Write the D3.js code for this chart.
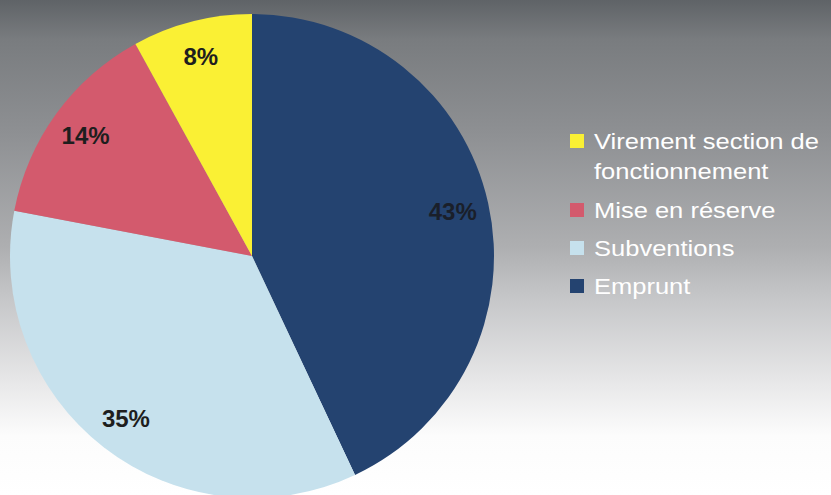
<!DOCTYPE html>
<html><head><meta charset="utf-8">
<script src="https://cdn.jsdelivr.net/npm/d3@7"></script>
<style>html,body{margin:0;padding:0;overflow:hidden;background:#fff}</style>
</head><body>
<svg id="chart" width="831" height="495"></svg>
<script>
const categories = ["Emprunt", "Subventions", "Mise en réserve", "Virement section de fonctionnement"];
const values = [43, 35, 14, 8];
const labels = ["43%", "35%", "14%", "8%"];
const colors = ["#244370", "#c6e1ed", "#d35a6d", "#faf034"];
const legendOrder = [3, 2, 1, 0];
const legendLines = [["Virement section de", "fonctionnement"], ["Mise en réserve"], ["Subventions"], ["Emprunt"]];

const svg = d3.select("#chart");
const W = 831, H = 495;
const defs = svg.append("defs");
const grad = defs.append("linearGradient").attr("id", "bg").attr("x1", 0).attr("y1", 0).attr("x2", 0).attr("y2", 1);
[[0, "#5f6367"], [0.08, "#797c7f"], [0.27, "#8e9093"], [0.5, "#aeafb1"], [0.6, "#c5c6c8"], [0.77, "#e7e7e8"], [0.88, "#fcfcfc"], [1, "#ffffff"]]
  .forEach(([o, c]) => grad.append("stop").attr("offset", o).attr("stop-color", c));
svg.append("rect").attr("width", W).attr("height", H).attr("fill", "url(#bg)");

const cx = 252, cy = 256, R = 242;
const pie = d3.pie().sort(null).value(d => d)(values);
const arc = d3.arc().innerRadius(0).outerRadius(R);
const labelArc = d3.arc().innerRadius(R * 0.85).outerRadius(R * 0.85);
const g = svg.append("g").attr("transform", `translate(${cx},${cy})`);
g.selectAll("path").data(pie).join("path")
  .attr("d", arc).attr("fill", (d, i) => colors[i]);
g.selectAll("text").data(pie).join("text")
  .attr("transform", d => `translate(${labelArc.centroid(d)})`)
  .attr("text-anchor", "middle").attr("dy", "0.36em")
  .attr("font-family", "Liberation Sans, Arial, sans-serif")
  .attr("font-weight", "bold").attr("font-size", 24)
  .attr("fill", (d, i) => i === 0 ? "#1a1f2a" : "#1e1e1e")
  .text((d, i) => labels[i]);

const legend = svg.append("g").attr("font-family", "Liberation Sans, Arial, sans-serif").attr("font-size", 22).attr("fill", "#ffffff");
const rowY = [141, 210, 248, 286];
legendOrder.forEach((ci, k) => {
  legend.append("rect").attr("x", 570).attr("y", rowY[k] - 7).attr("width", 14).attr("height", 14).attr("fill", colors[ci]);
  legendLines[k].forEach((line, j) => {
    legend.append("text")
      .attr("transform", `translate(594,${rowY[k] + j * 30}) scale(1.16,1)`)
      .attr("dy", "0.35em").text(line);
  });
});
</script>
</body></html>
